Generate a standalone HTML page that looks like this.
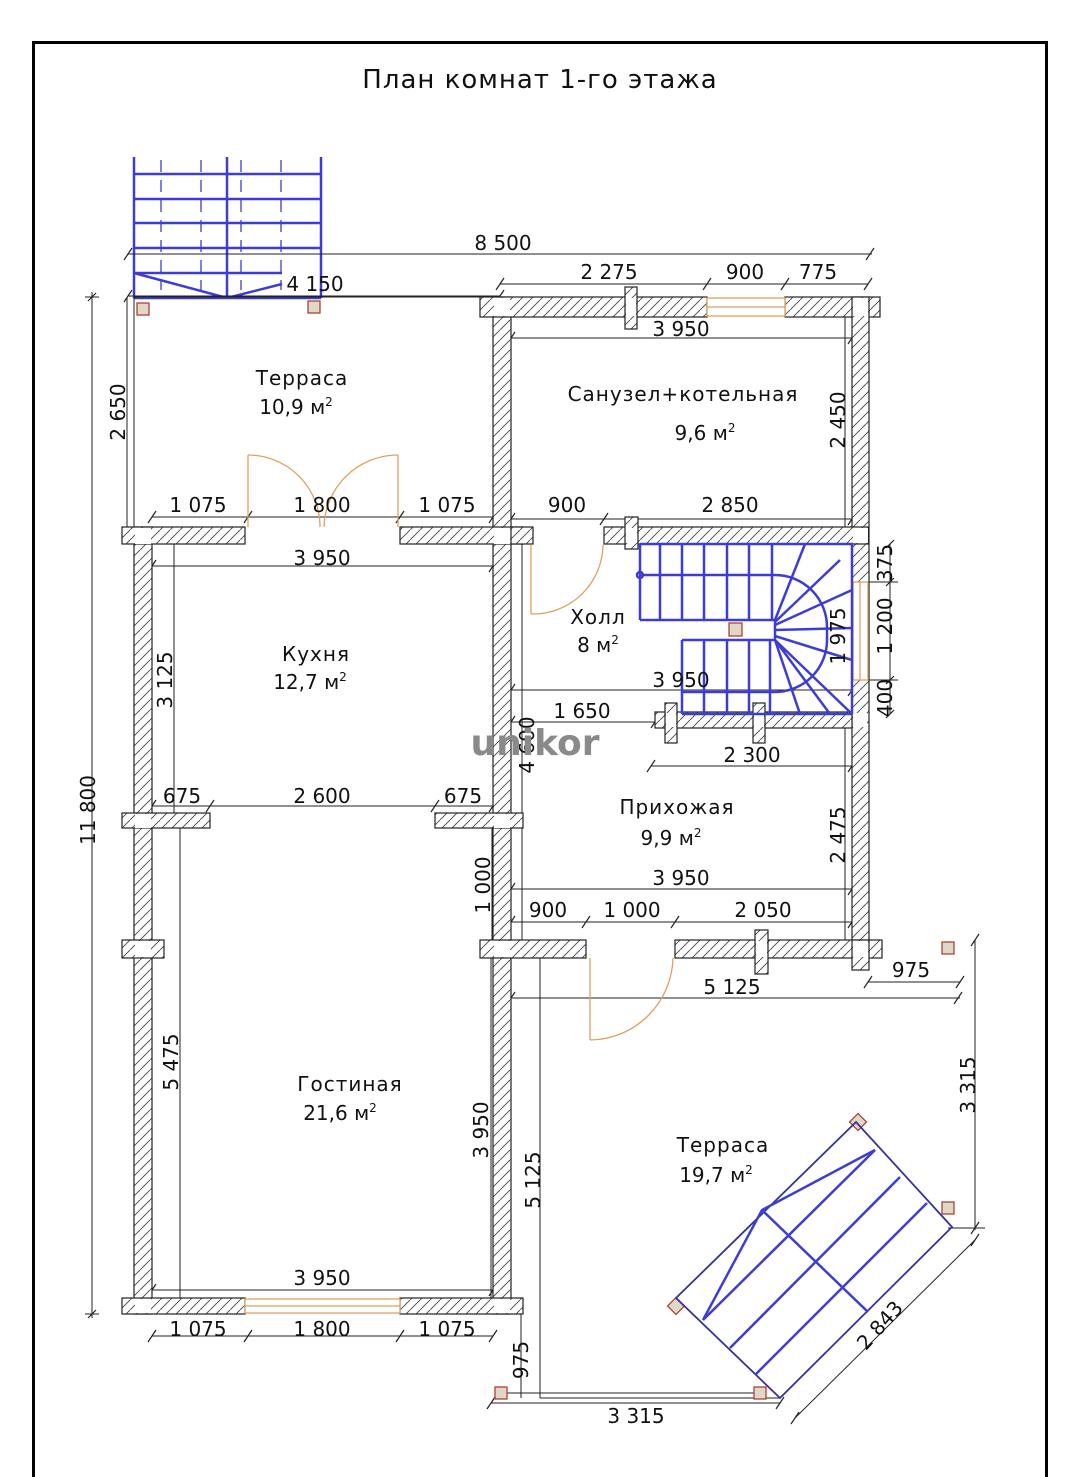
<!DOCTYPE html>
<html><head><meta charset="utf-8"><style>
html,body{margin:0;padding:0;background:#fff;}
svg{display:block;}
text{font-family:"DejaVu Sans","Liberation Sans",sans-serif;fill:#111;}
.d{font-size:20px;}
.r{font-size:20px;}
.dl{stroke:#222;stroke-width:1;fill:none;}
.w{fill:url(#h);stroke:#222;stroke-width:1.2;}
.b{stroke:#3d3dd6;stroke-width:2.5;fill:none;}
.bt{stroke:#3d3dd6;stroke-width:1.3;fill:none;}
.o{stroke:#e0a060;stroke-width:1.3;fill:none;}
.c{fill:#ddd8c8;stroke:#b04030;stroke-width:1.3;}
</style></head><body>
<svg width="1080" height="1477" viewBox="0 0 1080 1477" xmlns="http://www.w3.org/2000/svg">
<defs>
<pattern id="h" width="10" height="10" patternUnits="userSpaceOnUse">
<rect width="10" height="10" fill="#fff"/>
<path d="M-2,12 L12,-2" stroke="#444" stroke-width="0.9"/>
</pattern>
</defs>
<rect x="33.5" y="42.5" width="1013" height="1445" fill="none" stroke="#000" stroke-width="3"/>
<text x="540" y="88" text-anchor="middle" style="font-size:26px;letter-spacing:1px">План комнат 1-го этажа</text>

<!-- top stairs -->
<g class="b">
<line x1="134" y1="157" x2="134" y2="298"/><line x1="227" y1="157" x2="227" y2="298"/><line x1="321" y1="157" x2="321" y2="298"/>
<line x1="134" y1="174" x2="321" y2="174"/><line x1="134" y1="199" x2="321" y2="199"/><line x1="134" y1="223" x2="321" y2="223"/><line x1="134" y1="248" x2="321" y2="248"/><line x1="134" y1="273" x2="282" y2="273"/>
<line x1="134" y1="298" x2="321" y2="298"/>
<polyline points="134,273 227,298 282,284"/>
</g>
<g class="bt"><line x1="161" y1="160" x2="161" y2="290" stroke-dasharray="12,8"/><line x1="201" y1="160" x2="201" y2="290" stroke-dasharray="12,8"/><line x1="241" y1="160" x2="241" y2="290" stroke-dasharray="12,8"/><line x1="281" y1="160" x2="281" y2="290" stroke-dasharray="12,8"/></g>

<!-- dims -->
<g class="dl">
<line x1="128" y1="254" x2="872" y2="254"/>
<line x1="128" y1="296" x2="500" y2="296"/>
<line x1="92" y1="292" x2="92" y2="1318"/>
<line x1="85" y1="297" x2="99" y2="297"/><line x1="85" y1="1314" x2="99" y2="1314"/>
<line x1="127" y1="297" x2="127" y2="527"/><line x1="134" y1="297" x2="134" y2="527"/>
<line x1="134" y1="297" x2="500" y2="297"/>
<line x1="152" y1="517" x2="493" y2="517"/>
<line x1="152" y1="566" x2="493" y2="566"/>
<line x1="174" y1="543" x2="174" y2="813"/>
<line x1="152" y1="806" x2="493" y2="806"/>
<line x1="180" y1="828" x2="180" y2="1298"/>
<line x1="152" y1="1290" x2="493" y2="1290"/>
<line x1="152" y1="1336" x2="493" y2="1336"/>
<line x1="491" y1="958" x2="491" y2="1298"/>
<line x1="522" y1="527" x2="522" y2="940"/>
<line x1="492" y1="828" x2="492" y2="940"/>
<line x1="540" y1="940" x2="540" y2="1398"/>
<line x1="521" y1="1314" x2="521" y2="1398"/>
<line x1="491" y1="1403" x2="780" y2="1403"/>
<line x1="500" y1="1393" x2="760" y2="1393"/>
<line x1="500" y1="284" x2="868" y2="284"/>
<line x1="511" y1="338" x2="852" y2="338"/>
<line x1="845" y1="317" x2="845" y2="527"/>
<line x1="511" y1="519" x2="852" y2="519"/>
<line x1="511" y1="690" x2="852" y2="690"/>
<line x1="511" y1="722" x2="655" y2="722"/>
<line x1="890" y1="544" x2="890" y2="714"/>
<line x1="868" y1="582" x2="898" y2="582"/><line x1="868" y1="680" x2="898" y2="680"/>
<line x1="651" y1="766" x2="852" y2="766"/>
<line x1="845" y1="728" x2="845" y2="940"/>
<line x1="511" y1="889" x2="852" y2="889"/>
<line x1="511" y1="922" x2="852" y2="922"/>
<line x1="868" y1="982" x2="960" y2="982"/>
<line x1="511" y1="998" x2="960" y2="998"/>
<line x1="975" y1="940" x2="975" y2="1230"/>
<line x1="948" y1="1228" x2="985" y2="1228"/>
<line x1="795" y1="1418" x2="975" y2="1240"/>
<line x1="540" y1="1398" x2="780" y2="1398"/>
</g>
<g stroke="#222" stroke-width="1.2">
<path d="M124,260l8,-12M866,260l8,-12M124,302l8,-12M496,302l8,-12M88,301l8,-8M88,1318l8,-8M148,523l8,-12M489,523l8,-12M244,523l8,-12M396,523l8,-12M148,572l8,-12M489,572l8,-12M148,812l8,-12M489,812l8,-12M206,812l8,-12M431,812l8,-12M148,1296l8,-12M489,1296l8,-12M148,1342l8,-12M489,1342l8,-12M244,1342l8,-12M396,1342l8,-12M496,290l8,-12M864,290l8,-12M703,290l8,-12M781,290l8,-12M507,344l8,-12M848,344l8,-12M507,525l8,-12M848,525l8,-12M600,525l8,-12M507,696l8,-12M848,696l8,-12M507,728l8,-12M651,728l8,-12M647,772l8,-12M848,772l8,-12M507,895l8,-12M848,895l8,-12M507,928l8,-12M848,928l8,-12M582,928l8,-12M671,928l8,-12M864,988l8,-12M956,988l8,-12M507,1004l8,-12M954,1004l8,-12M487,1409l8,-12M776,1409l8,-12M971,946l8,-12M971,1234l8,-12M791,1424l8,-12M971,1246l8,-12M886,548l8,-8M886,586l8,-8M886,684l8,-8M886,718l8,-8"/>
</g>

<!-- walls -->
<g class="w">
<rect x="134" y="527" width="18" height="787"/>
<rect x="493" y="297" width="18" height="1017"/>
<rect x="122" y="527" width="123" height="17"/>
<rect x="400" y="527" width="123" height="17"/>
<rect x="122" y="813" width="88" height="15"/>
<rect x="435" y="813" width="88" height="15"/>
<rect x="122" y="940" width="42" height="18"/>
<rect x="122" y="1298" width="123" height="16"/>
<rect x="400" y="1298" width="123" height="16"/>
<rect x="480" y="297" width="227" height="20"/>
<rect x="785" y="297" width="95" height="20"/>
<rect x="625" y="287" width="12" height="42"/>
<rect x="852" y="297" width="17" height="661"/>
<rect x="511" y="527" width="22" height="17"/>
<rect x="604" y="527" width="264" height="17"/>
<rect x="625" y="517" width="13" height="32"/>
<rect x="655" y="712" width="197" height="16"/>
<rect x="665" y="703" width="12" height="40"/>
<rect x="753" y="703" width="12" height="40"/>
<rect x="480" y="940" width="106" height="18"/>
<rect x="675" y="940" width="207" height="18"/>
<rect x="755" y="930" width="13" height="44"/>
<rect x="852" y="940" width="17" height="30"/>
</g>
<g fill="#fff" stroke="none">
<rect x="135" y="528" width="16" height="16"/><rect x="494" y="528" width="16" height="16"/><rect x="135" y="814" width="16" height="14"/><rect x="494" y="814" width="16" height="14"/><rect x="135" y="941" width="16" height="16"/><rect x="135" y="1299" width="16" height="14"/><rect x="494" y="1299" width="16" height="14"/><rect x="494" y="298" width="16" height="18"/><rect x="853" y="298" width="15" height="18"/><rect x="626" y="298" width="10" height="18"/><rect x="494" y="528" width="16" height="15"/><rect x="853" y="528" width="15" height="15"/><rect x="626" y="528" width="11" height="15"/><rect x="494" y="941" width="16" height="16"/><rect x="853" y="941" width="15" height="16"/><rect x="853" y="713" width="14" height="14"/><rect x="756" y="941" width="11" height="16"/><rect x="666" y="713" width="10" height="14"/><rect x="754" y="713" width="10" height="14"/><rect x="853" y="582" width="15" height="98"/>
</g>
<!-- windows -->
<g class="o">
<rect x="707" y="298" width="78" height="18" fill="#fff"/><line x1="707" y1="307" x2="785" y2="307"/>
<rect x="245" y="1299" width="155" height="14" fill="#fff"/><line x1="245" y1="1306" x2="400" y2="1306"/>
<rect x="853" y="582" width="15" height="98" fill="#fff"/><line x1="860" y1="582" x2="860" y2="680"/>
</g>
<!-- doors -->
<g class="o">
<line x1="248" y1="455" x2="248" y2="527"/><path d="M248,455 A72,72 0 0 1 320,527"/>
<line x1="398" y1="455" x2="398" y2="527"/><path d="M398,455 A74,74 0 0 0 324,527"/>
<line x1="531" y1="545" x2="531" y2="614"/><path d="M531,614 A70,70 0 0 0 603,545"/>
<line x1="590" y1="958" x2="590" y2="1040"/><path d="M590,1040 A84,84 0 0 0 673,958"/>
</g>

<!-- hall stairs -->
<g class="b">
<polyline points="640,544 852,544 852,714"/>
<line x1="640" y1="544" x2="640" y2="620"/>
<path d="M640,575 L775,575 A52,52 0 0 1 827,627 L827,640 A52,52 0 0 1 775,692 L682,692"/>
<line x1="640" y1="620" x2="775" y2="620"/>
<line x1="682" y1="640" x2="775" y2="640"/>
<line x1="682" y1="640" x2="682" y2="714"/>
<line x1="660" y1="544" x2="660" y2="620"/><line x1="682" y1="544" x2="682" y2="620"/><line x1="704" y1="544" x2="704" y2="620"/><line x1="727" y1="544" x2="727" y2="620"/><line x1="749" y1="544" x2="749" y2="620"/><line x1="772" y1="544" x2="772" y2="620"/>
<line x1="704" y1="640" x2="704" y2="714"/><line x1="727" y1="640" x2="727" y2="714"/><line x1="749" y1="640" x2="749" y2="714"/><line x1="770" y1="640" x2="770" y2="714"/>
<line x1="775" y1="620" x2="775" y2="640"/>
<path d="M775,620 L805,544 M775,622 L840,560 M775,625 L852,590 M775,630 L852,628 M775,636 L852,660 M775,640 L830,714 M775,640 L852,714 M775,640 L800,714"/>
<line x1="682" y1="714" x2="852" y2="714"/>
<circle cx="640" cy="575" r="3"/>
</g>
<!-- columns -->
<g class="c">
<rect x="137" y="303" width="12" height="12"/><rect x="308" y="301" width="12" height="12"/>
<rect x="729" y="623" width="13" height="13"/>
<rect x="942" y="942" width="12" height="12"/><rect x="942" y="1202" width="12" height="12"/>
<rect x="495" y="1387" width="12" height="12"/><rect x="754" y="1387" width="12" height="12"/>
<rect x="852" y="1116" width="12" height="12" transform="rotate(45 858 1122)"/>
<rect x="670" y="1300" width="12" height="12" transform="rotate(45 676 1306)"/>
</g>
<!-- terrace stair diagonal -->
<g>
<polygon points="856,1122 952,1227 780,1398 676,1298" fill="none" stroke="#33339a" stroke-width="1.8"/>
<g class="b" stroke-width="2">
<line x1="703" y1="1320" x2="875" y2="1150"/>
<line x1="730" y1="1348" x2="900" y2="1177"/>
<line x1="755" y1="1375" x2="927" y2="1203"/>
<polyline points="703,1320 762,1210 875,1150"/>
<line x1="762" y1="1210" x2="868" y2="1312"/>
</g>
</g>

<!-- labels -->
<g class="d">
<text x="503" y="250" text-anchor="middle">8 500</text>
<text x="315" y="291" text-anchor="middle">4 150</text>
<text x="609" y="279" text-anchor="middle">2 275</text>
<text x="745" y="279" text-anchor="middle">900</text>
<text x="818" y="279" text-anchor="middle">775</text>
<text x="681" y="336" text-anchor="middle">3 950</text>
<text x="198" y="512" text-anchor="middle">1 075</text>
<text x="322" y="512" text-anchor="middle">1 800</text>
<text x="447" y="512" text-anchor="middle">1 075</text>
<text x="567" y="512" text-anchor="middle">900</text>
<text x="730" y="512" text-anchor="middle">2 850</text>
<text x="322" y="565" text-anchor="middle">3 950</text>
<text x="182" y="803" text-anchor="middle">675</text>
<text x="322" y="803" text-anchor="middle">2 600</text>
<text x="463" y="803" text-anchor="middle">675</text>
<text x="681" y="687" text-anchor="middle">3 950</text>
<text x="582" y="718" text-anchor="middle">1 650</text>
<text x="752" y="762" text-anchor="middle">2 300</text>
<text x="681" y="885" text-anchor="middle">3 950</text>
<text x="548" y="917" text-anchor="middle">900</text>
<text x="632" y="917" text-anchor="middle">1 000</text>
<text x="763" y="917" text-anchor="middle">2 050</text>
<text x="911" y="977" text-anchor="middle">975</text>
<text x="732" y="994" text-anchor="middle">5 125</text>
<text x="322" y="1285" text-anchor="middle">3 950</text>
<text x="198" y="1336" text-anchor="middle">1 075</text>
<text x="322" y="1336" text-anchor="middle">1 800</text>
<text x="447" y="1336" text-anchor="middle">1 075</text>
<text x="636" y="1423" text-anchor="middle">3 315</text>
<text transform="translate(95,810) rotate(-90)" text-anchor="middle">11 800</text>
<text transform="translate(125,412) rotate(-90)" text-anchor="middle">2 650</text>
<text transform="translate(172,680) rotate(-90)" text-anchor="middle">3 125</text>
<text transform="translate(178,1062) rotate(-90)" text-anchor="middle">5 475</text>
<text transform="translate(488,1130) rotate(-90)" text-anchor="middle">3 950</text>
<text transform="translate(534,745) rotate(-90)" text-anchor="middle">4 600</text>
<text transform="translate(490,885) rotate(-90)" text-anchor="middle">1 000</text>
<text transform="translate(540,1180) rotate(-90)" text-anchor="middle">5 125</text>
<text transform="translate(528,1360) rotate(-90)" text-anchor="middle">975</text>
<text transform="translate(845,420) rotate(-90)" text-anchor="middle">2 450</text>
<text transform="translate(845,636) rotate(-90)" text-anchor="middle">1 975</text>
<text transform="translate(892,563) rotate(-90)" text-anchor="middle">375</text>
<text transform="translate(892,626) rotate(-90)" text-anchor="middle">1 200</text>
<text transform="translate(892,698) rotate(-90)" text-anchor="middle">400</text>
<text transform="translate(845,835) rotate(-90)" text-anchor="middle">2 475</text>
<text transform="translate(975,1085) rotate(-90)" text-anchor="middle">3 315</text>
<text transform="translate(885,1330) rotate(-48)" text-anchor="middle">2 843</text>
</g>
<g class="r">
<text x="302" y="385" text-anchor="middle" style="letter-spacing:1px">Терраса</text>
<text x="296" y="414" text-anchor="middle">10,9 м<tspan dy="-8" font-size="12">2</tspan></text>
<text x="683" y="401" text-anchor="middle" style="letter-spacing:1px">Санузел+котельная</text>
<text x="705" y="440" text-anchor="middle">9,6 м<tspan dy="-8" font-size="12">2</tspan></text>
<text x="316" y="661" text-anchor="middle" style="letter-spacing:1px">Кухня</text>
<text x="310" y="689" text-anchor="middle">12,7 м<tspan dy="-8" font-size="12">2</tspan></text>
<text x="598" y="624" text-anchor="middle" style="letter-spacing:1px">Холл</text>
<text x="598" y="652" text-anchor="middle">8 м<tspan dy="-8" font-size="12">2</tspan></text>
<text x="677" y="814" text-anchor="middle" style="letter-spacing:1px">Прихожая</text>
<text x="671" y="845" text-anchor="middle">9,9 м<tspan dy="-8" font-size="12">2</tspan></text>
<text x="350" y="1091" text-anchor="middle" style="letter-spacing:1px">Гостиная</text>
<text x="340" y="1120" text-anchor="middle">21,6 м<tspan dy="-8" font-size="12">2</tspan></text>
<text x="723" y="1152" text-anchor="middle" style="letter-spacing:1px">Терраса</text>
<text x="716" y="1182" text-anchor="middle">19,7 м<tspan dy="-8" font-size="12">2</tspan></text>
</g>
<text x="535" y="755" text-anchor="middle" style="font-size:36px;font-weight:bold;fill:#8a8a8a">unikor</text>
</svg>
</body></html>
